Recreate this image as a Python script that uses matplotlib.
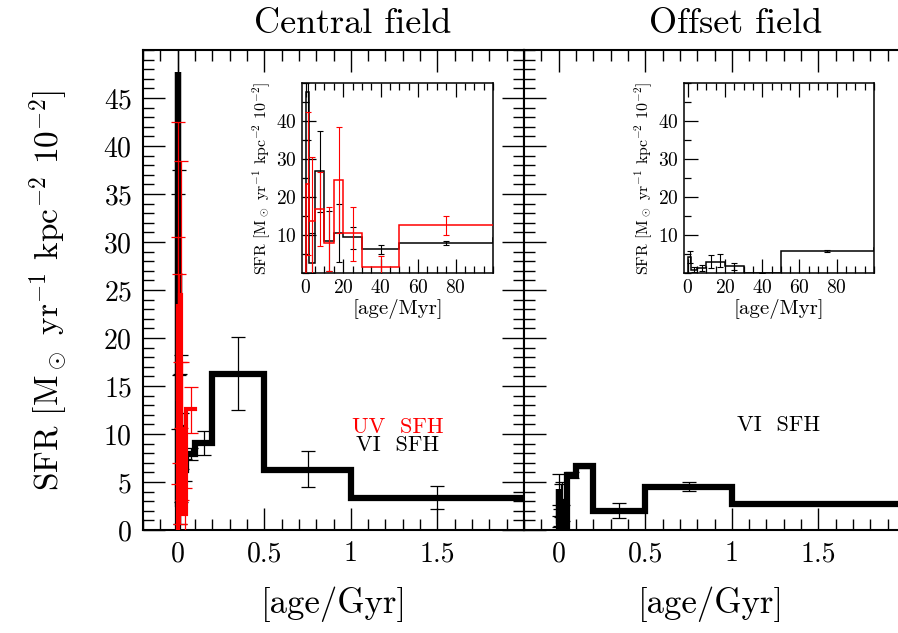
import matplotlib
matplotlib.use("Agg")
import matplotlib.pyplot as plt
import numpy as np
from matplotlib.ticker import MultipleLocator, FixedLocator

plt.rcParams['font.family'] = ['cmr10', 'DejaVu Serif']
plt.rcParams['mathtext.fontset'] = 'cm'
plt.rcParams['axes.formatter.use_mathtext'] = True

# bin edges in Myr
edges_vi = [0, 2, 5, 10, 15, 20, 30, 50, 100, 200, 500, 1000, 2000]
edges_uv = [0, 2, 5, 10, 15, 20, 30, 50, 100]

# Central field, VI SFH
central_vi = [47.7, 2.7, 26.8, 8.4, 10.6, 9.5, 6.2, 7.9, 9.1, 16.3, 6.3, 3.3]
central_vi_lo = [35.0, 0.0, 16.1, 0.6, 2.9, 6.4, 5.1, 7.3, 7.8, 12.5, 4.5, 2.2]
central_vi_hi = [59.0, 10.5, 37.5, 16.3, 18.2, 12.2, 7.4, 8.5, 10.3, 20.1, 8.2, 4.6]

# Central field, UV SFH
central_uv = [23.5, 13.6, 16.8, 7.9, 24.5, 10.5, 1.7, 12.6]
central_uv_lo = [4.8, -2.0, 7.0, 0.6, 10.6, 3.1, -1.0, 10.1]
central_uv_hi = [42.5, 30.5, 26.7, 17.5, 38.4, 17.5, 4.4, 14.9]

# Offset field, VI SFH
offset_vi = [4.3, 0.9, 1.2, 2.9, 2.9, 1.9, 0.0, 5.7, 6.7, 2.0, 4.5, 2.7]
offset_vi_lo = [2.6, 0.3, 0.4, 1.4, 1.5, 0.9, 0.0, 5.4, 6.5, 1.2, 4.05, 2.6]
offset_vi_hi = [5.8, 1.5, 2.2, 4.8, 5.0, 2.6, 0.0, 6.0, 6.9, 2.8, 5.0, 2.8]

YLABEL = r'SFR [M$_\odot$ yr$^{-1}$ kpc$^{-2}$ 10$^{-2}$]'


def centers(edges):
    e = np.array(edges, dtype=float)
    return 0.5 * (e[:-1] + e[1:])


def yerr(vals, lo, hi):
    v = np.array(vals)
    return [v - np.array(lo), np.array(hi) - v]


def steps(ax, edges, vals, scale, color, lw, zo):
    # step outline rising from zero at the first edge, open at the far end
    x = np.concatenate([[edges[0]], edges]) / scale
    y = np.concatenate([[0.0], vals, [vals[-1]]])
    ax.plot(x, y, drawstyle='steps-post', color=color, lw=lw, zorder=zo,
            solid_joinstyle='miter')


def draw_main(ax, edges, vals, lo, hi, color, lw, zo):
    steps(ax, np.array(edges, float), vals, 1000.0, color, lw, zo)
    ax.errorbar(centers(edges) / 1000.0, vals, yerr=yerr(vals, lo, hi),
                fmt='none', ecolor=color, elinewidth=0.9, capsize=5,
                capthick=0.9, zorder=zo + 1)


def draw_inset(ax, edges, vals, lo, hi, color, zo):
    steps(ax, np.array(edges, float), vals, 1.0, color, 1.1, zo)
    ax.errorbar(centers(edges), vals, yerr=yerr(vals, lo, hi),
                fmt='none', ecolor=color, elinewidth=0.8, capsize=2,
                capthick=0.8, zorder=zo + 1)


def style_main(ax, left_labels):
    ax.set_xlim(-0.2, 2.0)
    ax.set_ylim(0, 50)
    ax.xaxis.set_major_locator(FixedLocator([0, 0.5, 1, 1.5]))
    ax.xaxis.set_minor_locator(MultipleLocator(0.1))
    ax.yaxis.set_major_locator(FixedLocator(np.arange(0, 50, 5)))
    ax.yaxis.set_minor_locator(MultipleLocator(1))
    ax.set_xticklabels(['0', '0.5', '1', '1.5'])
    ax.tick_params(which='both', direction='in', top=True, right=True,
                   labelsize=20, width=1.0)
    ax.tick_params(which='major', length=16, pad=8)
    ax.tick_params(which='minor', length=8)
    if not left_labels:
        ax.tick_params(labelleft=False)
    for s in ax.spines.values():
        s.set_linewidth(1.5)
    ax.set_xlabel('[age/Gyr]', fontsize=25, labelpad=14)


def style_inset(ax):
    ax.set_xlim(-2, 100)
    ax.set_ylim(0, 50)
    ax.xaxis.set_major_locator(FixedLocator([0, 20, 40, 60, 80]))
    ax.xaxis.set_minor_locator(MultipleLocator(5))
    ax.yaxis.set_major_locator(FixedLocator([10, 20, 30, 40]))
    ax.yaxis.set_minor_locator(MultipleLocator(5))
    ax.tick_params(which='both', direction='in', top=True, right=False,
                   labelsize=14, width=0.9)
    ax.tick_params(which='major', length=10, pad=4)
    ax.tick_params(which='minor', length=5)
    for s in ax.spines.values():
        s.set_linewidth(1.1)
    ax.set_xlabel('[age/Myr]', fontsize=15, labelpad=2)
    ax.set_ylabel(YLABEL, fontsize=11.5, labelpad=3)


fig = plt.figure(figsize=(8.98, 6.33), dpi=100)

ax1 = fig.add_axes([143 / 898, 103 / 633, 381 / 898, 480 / 633])
ax2 = fig.add_axes([524 / 898, 103 / 633, 374 / 898, 480 / 633])

# Central field
draw_main(ax1, edges_vi, central_vi, central_vi_lo, central_vi_hi, 'black', 4.5, 2)
draw_main(ax1, edges_uv, central_uv, central_uv_lo, central_uv_hi, 'red', 3.0, 4)
style_main(ax1, True)
ax1.set_ylabel(YLABEL, fontsize=24, labelpad=24)
ax1.set_title('Central field', fontsize=26, pad=12, x=0.55)
ax1.text(1.27, 10.7, 'UV  SFH', color='red', fontsize=16, ha='center', va='center')
ax1.text(1.27, 8.85, 'VI  SFH', color='black', fontsize=16, ha='center', va='center')

# Offset field
draw_main(ax2, edges_vi, offset_vi, offset_vi_lo, offset_vi_hi, 'black', 4.5, 4)
style_main(ax2, False)
ax2.set_xlim(-0.2, -0.2 + 374 / 381 * 2.2)
ax2.spines['right'].set_visible(False)
ax2.tick_params(which='both', right=False)
ax2.set_title('Offset field', fontsize=26, pad=12, x=0.567)
ax2.text(1.27, 10.9, 'VI  SFH', color='black', fontsize=16, ha='center', va='center')

# Insets
in1 = fig.add_axes([302 / 898, 360 / 633, 191 / 898, 190 / 633], zorder=5)
draw_inset(in1, edges_vi, central_vi, central_vi_lo, central_vi_hi, 'black', 2)
draw_inset(in1, edges_uv, central_uv, central_uv_lo, central_uv_hi, 'red', 4)
style_inset(in1)

in2 = fig.add_axes([684 / 898, 360 / 633, 190 / 898, 190 / 633], zorder=5)
draw_inset(in2, edges_vi, offset_vi, offset_vi_lo, offset_vi_hi, 'black', 2)
style_inset(in2)

fig.savefig('out.png', dpi=100)
